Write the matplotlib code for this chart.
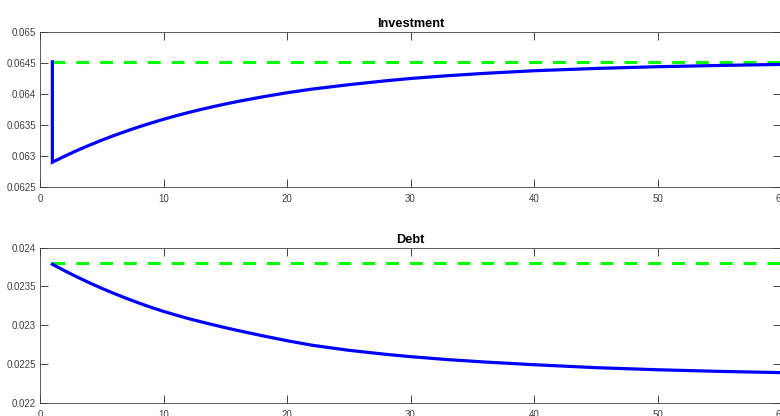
import matplotlib
matplotlib.use('Agg')
import matplotlib.pyplot as plt
from matplotlib.ticker import FormatStrFormatter

plt.rcParams['font.family'] = ['Liberation Sans', 'DejaVu Sans']

#impulse response: periods and paths
T_INV = [1, 1, 2, 3, 4, 5, 6, 7, 8, 9, 10, 11, 12, 13, 14, 15, 16, 18, 20, 22, 25, 28,
         30, 33, 36, 40, 45, 50, 55, 60, 61]
INVESTMENT = [0.064520, 0.062900, 0.062997, 0.063089, 0.063174, 0.063255, 0.063331,
              0.063402, 0.063469, 0.063532, 0.063592, 0.063648, 0.063700, 0.063749,
              0.063795, 0.063838, 0.063879, 0.063953, 0.064020, 0.064078, 0.064150,
              0.064213, 0.064250, 0.064295, 0.064333, 0.064375, 0.064412, 0.064440,
              0.064460, 0.064477, 0.064480]
INV_SS = 0.064520

T_DEBT = [1, 2, 3, 4, 5, 6, 7, 8, 9, 10, 11, 12, 13, 14, 15, 16, 18, 20, 22, 25, 28,
          30, 33, 36, 40, 45, 50, 55, 60, 61]
DEBT = [0.023786, 0.023702, 0.023622, 0.023547, 0.023476, 0.023409, 0.023346, 0.023286,
        0.023230, 0.023178, 0.023131, 0.023086, 0.023045, 0.023006, 0.022968, 0.022932,
        0.022864, 0.022800, 0.022742, 0.022676, 0.022624, 0.022594, 0.022556, 0.022525,
        0.022490, 0.022452, 0.022425, 0.022404, 0.022388, 0.022385]
DEBT_SS = 0.023803

SS_T = [1, 61]
XTICKS = [0, 10, 20, 30, 40, 50, 60]
INV_YTICKS = [0.0625, 0.063, 0.0635, 0.064, 0.0645, 0.065]
DEBT_YTICKS = [0.022, 0.0225, 0.023, 0.0235, 0.024]

fig = plt.figure(figsize=(7.8, 4.16), dpi=100)
ax1 = fig.add_axes([0.0513, 0.5505, 0.9500, 0.3726])
ax2 = fig.add_axes([0.0513, 0.0320, 0.9500, 0.3726])

panels = [
    (ax1, T_INV, INVESTMENT, INV_SS, 'Investment', (0.0625, 0.065), INV_YTICKS),
    (ax2, T_DEBT, DEBT, DEBT_SS, 'Debt', (0.022, 0.024), DEBT_YTICKS),
]

for ax, t, y, ss, title, ylim, yticks in panels:
    ax.plot(t, y, color='#0000ff', lw=2.3, solid_joinstyle='miter', zorder=3)
    ln, = ax.plot(SS_T, [ss, ss], color='#00ff00', lw=2.2, zorder=2)
    ln.set_dashes([4.2, 3.6])
    ax.set_xlim(0, 60)
    ax.set_ylim(*ylim)
    ax.set_xticks(XTICKS)
    ax.set_yticks(yticks)
    ax.yaxis.set_major_formatter(FormatStrFormatter('%g'))
    ax.set_title(title, fontsize=9.2, fontweight='bold', pad=3.5)
    ax.tick_params(direction='in', length=5.5, width=0.6, colors='#262626',
                   labelsize=7, labelcolor='#404040', top=True, right=True, pad=3)
    ax.tick_params(axis='x', pad=5)
    for sp in ax.spines.values():
        sp.set_color('#404040')
        sp.set_linewidth(0.6)

fig.savefig('out.png', dpi=100)
